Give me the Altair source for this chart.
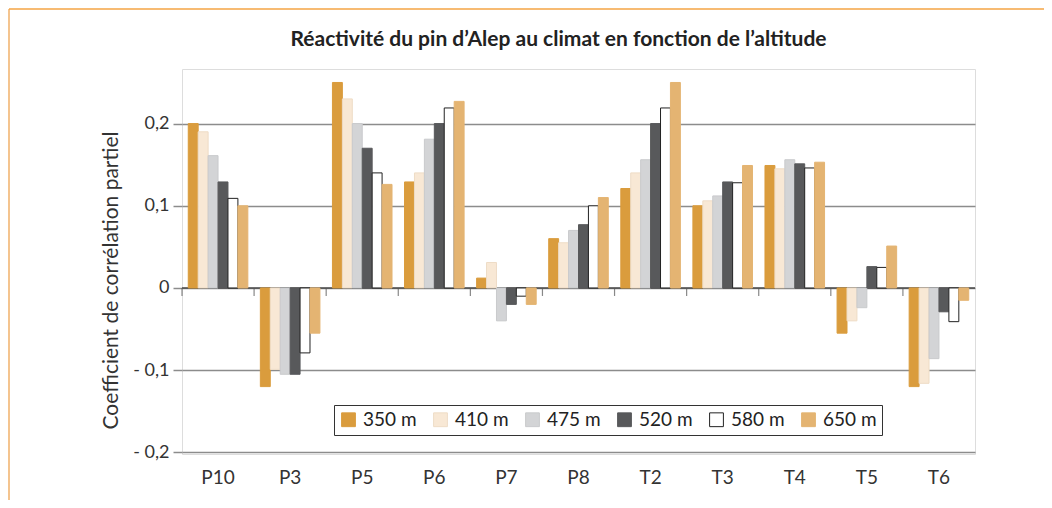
import altair as alt
import pandas as pd

categories = ["P10", "P3", "P5", "P6", "P7", "P8", "T2", "T3", "T4", "T5", "T6"]
altitudes = ["350 m", "410 m", "475 m", "520 m", "580 m", "650 m"]

v350 = [0.200, -0.120, 0.250, 0.129, 0.012, 0.060, 0.121, 0.100, 0.149, -0.055, -0.120]
v410 = [0.190, -0.099, 0.230, 0.140, 0.031, 0.055, 0.140, 0.106, 0.145, -0.040, -0.116]
v475 = [0.161, -0.105, 0.200, 0.181, -0.040, 0.070, 0.156, 0.112, 0.156, -0.024, -0.086]
v520 = [0.129, -0.105, 0.170, 0.200, -0.020, 0.077, 0.200, 0.129, 0.151, 0.026, -0.029]
v580 = [0.109, -0.079, 0.140, 0.219, -0.010, 0.100, 0.219, 0.128, 0.146, 0.025, -0.041]
v650 = [0.100, -0.055, 0.126, 0.227, -0.020, 0.110, 0.250, 0.149, 0.153, 0.051, -0.015]

tick_values = [-0.2, -0.1, 0.0, 0.1, 0.2]

fills = ["#DA9C3D", "#F8E8D5", "#D3D4D6", "#58595B", "#FFFFFF", "#E4B472"]
strokes = ["#DA9C3D", "#EEDCC6", "#C9CACC", "#58595B", "#222222", "#E4B472"]

series = [v350, v410, v475, v520, v580, v650]
rows = []
for a, vals in zip(altitudes, series):
    for c, v in zip(categories, vals):
        rows.append({"cat": c, "alt": a, "value": v})
df = pd.DataFrame(rows)

FONT = "Lato"
W, H = 793, 385

yscale = alt.Scale(domain=[-0.202, 0.2664], nice=False, zero=False)
xscale = alt.Scale(paddingInner=0, paddingOuter=0)

legend = alt.Legend(
    title=None, orient="none", legendX=152, legendY=336, direction="horizontal",
    symbolType="square", symbolSize=190, symbolStrokeWidth=1,
    labelFontSize=19, labelFont=FONT, labelColor="#222", labelOffset=5,
    columnPadding=14, strokeColor="#333", fillColor="white", padding=5,
)

base = alt.Chart(df)

zero_rule = alt.Chart(pd.DataFrame({"y": [0.0]})).mark_rule(
    color="#4a4a4a", strokeWidth=1.5
).encode(y=alt.Y("y:Q", scale=yscale))

bars = base.mark_bar(strokeWidth=1).encode(
    x=alt.X("cat:N", sort=categories, scale=xscale,
            axis=alt.Axis(title=None, labelAngle=0, ticks=False, domain=False,
                          labelFontSize=19, labelFont=FONT, labelColor="#333",
                          labelPadding=14)),
    xOffset=alt.XOffset("alt:N", sort=altitudes,
                        scale=alt.Scale(paddingOuter=0.63, paddingInner=0)),
    y=alt.Y("value:Q", scale=yscale,
            axis=alt.Axis(values=tick_values, grid=True, gridColor="#8c8c8c",
                          gridWidth=1.5, domain=False, tickSize=9,
                          tickColor="#8c8c8c", tickWidth=1.5,
                          labelFontSize=18, labelFont=FONT, labelColor="#333",
                          labelPadding=4,
                          labelExpr="datum.value == 0 ? '0' : (datum.value < 0 ? '- ' : '') + replace(format(abs(datum.value), '.1f'), '.', ',')",
                          title="Coefficient de corrélation partiel",
                          titleFontSize=21, titleFont=FONT, titleFontWeight="normal",
                          titleColor="#333", titlePadding=11, titleY=211)),
    y2=alt.datum(0),
    fill=alt.Fill("alt:N", sort=altitudes,
                  scale=alt.Scale(domain=altitudes, range=fills), legend=legend),
    stroke=alt.Stroke("alt:N", sort=altitudes,
                      scale=alt.Scale(domain=altitudes, range=strokes), legend=legend),
)

ticks = alt.Chart(pd.DataFrame({"cat": categories})).mark_tick(
    orient="vertical", size=8, thickness=1.2, yOffset=4, color="#555"
).encode(
    x=alt.X("cat:N", sort=categories, bandPosition=0),
    y=alt.datum(0),
)

frame = alt.Chart(pd.DataFrame({"k": [0]}))
border_left = frame.mark_rule(color="#F0B16A", strokeWidth=1.5).encode(
    x=alt.value(-173), y=alt.value(-60), y2=alt.value(440))
border_top = frame.mark_rule(color="#F5A545", strokeWidth=1.5).encode(
    x=alt.value(-173), x2=alt.value(870), y=alt.value(-60))

chart = alt.layer(zero_rule, bars, ticks, border_left, border_top).properties(
    width=W, height=H,
    autosize=alt.AutoSizeParams(type="none"),
    padding={"left": 174, "top": 61, "right": 69, "bottom": 46},
    title=alt.Title("Réactivité du pin d’Alep au climat en fonction de l’altitude",
                    font=FONT, fontSize=21, fontWeight="bold", color="#222",
                    anchor="middle", dx=-20, offset=18, dy=60),
).configure_view(stroke="#555", strokeWidth=1.5).configure(background="white")

chart.save("out.html", embed_options={"renderer": "svg", "actions": False})
